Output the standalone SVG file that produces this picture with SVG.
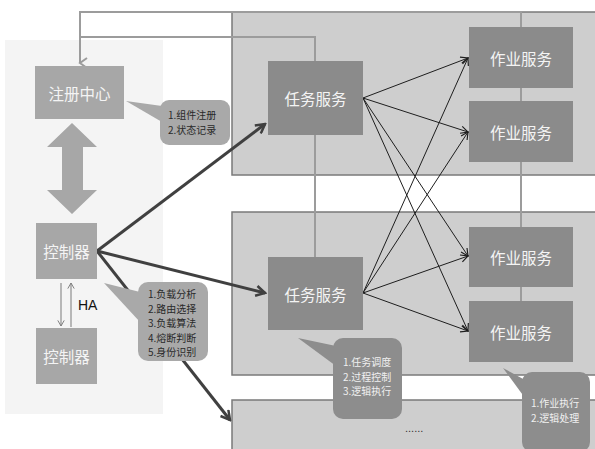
<svg xmlns="http://www.w3.org/2000/svg" width="595" height="449" viewBox="0 0 595 449">
<defs>
<style>
.panel{fill:#cecece;stroke:#7a7a7a;stroke-width:1.5}
.lbox{fill:#a7a7a7}
.dbox{fill:#8b8b8b}
.lbl{font-family:"Noto Sans CJK SC","Noto Sans",sans-serif;font-size:15.5px;fill:#f4f4f4;text-anchor:middle;dominant-baseline:central}
.c1{fill:#a9a9a9}
.c2{fill:#8d8d8d}
.ct{font-family:"Noto Sans CJK SC","Noto Sans",sans-serif;font-size:10px;fill:#2a2a2a}
.ctw{font-family:"Noto Sans CJK SC","Noto Sans",sans-serif;font-size:10px;fill:#f0f0f0}
.conn{fill:none;stroke:#9c9c9c;stroke-width:2}
.thick{fill:none;stroke:#404040;stroke-width:3}
.thin{fill:none;stroke:#1e1e1e;stroke-width:1}
.ha{fill:none;stroke:#7a7a7a;stroke-width:1}
</style>
<marker id="mThick" viewBox="0 0 12 12" refX="10" refY="6" markerWidth="12" markerHeight="12" markerUnits="userSpaceOnUse" orient="auto">
<path d="M1,1 L10,6 L1,11" fill="none" stroke="#404040" stroke-width="2.5"/>
</marker>
<marker id="mThin" viewBox="0 0 10 10" refX="9" refY="5" markerWidth="9" markerHeight="9" markerUnits="userSpaceOnUse" orient="auto">
<path d="M1,1 L9,5 L1,9" fill="none" stroke="#1e1e1e" stroke-width="1.3"/>
</marker>
<marker id="mGray" viewBox="0 0 12 12" refX="6" refY="10" markerWidth="12" markerHeight="12" markerUnits="userSpaceOnUse" orient="auto-start-reverse">
<path d="M1,3 L6,10 L11,3" fill="none" stroke="#9c9c9c" stroke-width="2"/>
</marker>
<marker id="mHA2" viewBox="0 0 10 10" refX="9" refY="5" markerWidth="8" markerHeight="8" markerUnits="userSpaceOnUse" orient="auto">
<path d="M2,1 L9,5 L2,9" fill="none" stroke="#7a7a7a" stroke-width="1.2"/>
</marker>
</defs>
<rect width="595" height="449" fill="#ffffff"/>
<rect id="leftPanel" x="5" y="40" width="158" height="374" fill="#f4f4f4"/>
<g id="panels">
<rect id="panel1" class="panel" x="232" y="12" width="370" height="163"/>
<rect id="panel2" class="panel" x="232" y="212" width="370" height="163"/>
<rect id="panel3" class="panel" x="232" y="400" width="370" height="60"/>
</g>
<g id="connectors">
<polyline class="conn" points="521,301 521,12 80,12 80,63" marker-end="url(#mGray)"/>
<polyline class="conn" points="315,257 315,37 80,37"/>
<line class="thick" x1="97" y1="251" x2="265" y2="124" marker-end="url(#mThick)"/>
<line class="thick" x1="97" y1="251" x2="265" y2="293" marker-end="url(#mThick)"/>
<line class="thick" x1="97" y1="251" x2="230" y2="420" marker-end="url(#mThick)"/>
<line class="thin" x1="363" y1="98" x2="468" y2="58" marker-end="url(#mThin)"/>
<line class="thin" x1="363" y1="98" x2="468" y2="132" marker-end="url(#mThin)"/>
<line class="thin" x1="363" y1="98" x2="468" y2="256" marker-end="url(#mThin)"/>
<line class="thin" x1="363" y1="98" x2="468" y2="331" marker-end="url(#mThin)"/>
<line class="thin" x1="363" y1="293" x2="468" y2="58" marker-end="url(#mThin)"/>
<line class="thin" x1="363" y1="293" x2="468" y2="132" marker-end="url(#mThin)"/>
<line class="thin" x1="363" y1="293" x2="468" y2="256" marker-end="url(#mThin)"/>
<line class="thin" x1="363" y1="293" x2="468" y2="331" marker-end="url(#mThin)"/>
<line class="ha" x1="61" y1="283" x2="61" y2="326" marker-end="url(#mHA2)"/>
<line class="ha" x1="71" y1="327" x2="71" y2="283" marker-end="url(#mHA2)"/>
<polygon id="dblArrow" fill="#a7a7a7" points="72,123 97,147 83,147 83,190 97,190 72,214 47,190 62,190 62,147 47,147"/>
</g>
<g id="registry">
<rect class="lbox" x="35" y="66" width="89" height="53"/>
<text class="lbl" x="79.5" y="92.5">注册中心</text>
</g>
<g id="controller1">
<rect class="lbox" x="36" y="223" width="61" height="56"/>
<text class="lbl" x="66.5" y="251">控制器</text>
</g>
<g id="controller2">
<rect class="lbox" x="36" y="328" width="61" height="56"/>
<text class="lbl" x="66.5" y="356">控制器</text>
</g>
<text id="haLabel" x="78" y="310" font-family="Liberation Sans, Arial, sans-serif" font-size="14" fill="#111">HA</text>
<g id="task1">
<rect class="dbox" x="268" y="61" width="95" height="74"/>
<text class="lbl" x="315.5" y="98" font-size="16">任务服务</text>
</g>
<g id="task2">
<rect class="dbox" x="268" y="257" width="95" height="73"/>
<text class="lbl" x="315.5" y="293.5" font-size="16">任务服务</text>
</g>
<g id="job1">
<rect class="dbox" x="469" y="27" width="104" height="61"/>
<text class="lbl" x="521" y="57.5" font-size="16">作业服务</text>
</g>
<g id="job2">
<rect class="dbox" x="469" y="101" width="104" height="61"/>
<text class="lbl" x="521" y="131.5" font-size="16">作业服务</text>
</g>
<g id="job3">
<rect class="dbox" x="469" y="227" width="104" height="60"/>
<text class="lbl" x="521" y="257" font-size="16">作业服务</text>
</g>
<g id="job4">
<rect class="dbox" x="469" y="301" width="104" height="61"/>
<text class="lbl" x="521" y="331.5" font-size="16">作业服务</text>
</g>
<g id="callout1">
<path class="c1" d="M126,101 L162,106 L162,122 Z"/>
<rect class="c1" x="160" y="100" width="70" height="45" rx="9"/>
<text class="ct" x="168" y="119"><tspan x="168">1.组件注册</tspan><tspan x="168" dy="14.6">2.状态记录</tspan></text>
</g>
<g id="callout2">
<path class="c1" d="M104,283 L140,292 L140,322 Z"/>
<rect class="c1" x="138" y="282" width="70" height="79" rx="10"/>
<text class="ct" x="148" y="298"><tspan x="148">1.负载分析</tspan><tspan x="148" dy="14.6">2.路由选择</tspan><tspan x="148" dy="14.6">3.负载算法</tspan><tspan x="148" dy="14.6">4.熔断判断</tspan><tspan x="148" dy="14.6">5.身份识别</tspan></text>
</g>
<g id="callout3">
<path class="c2" d="M298,338 L336,346 L336,366 Z"/>
<rect class="c2" x="333" y="338" width="69" height="81" rx="10"/>
<text class="ctw" x="343" y="366"><tspan x="343">1.任务调度</tspan><tspan x="343" dy="14.6">2.过程控制</tspan><tspan x="343" dy="14.6">3.逻辑执行</tspan></text>
</g>
<g id="callout4">
<path class="c2" d="M503,368 L525,380 L525,398 Z"/>
<rect class="c2" x="522" y="372" width="68" height="80" rx="10"/>
<text class="ctw" x="531" y="407"><tspan x="531">1.作业执行</tspan><tspan x="531" dy="14.6">2.逻辑处理</tspan></text>
</g>
<text id="ellipsis" x="405" y="432" font-family="Liberation Sans, Arial, sans-serif" font-size="11" fill="#333">......</text>
</svg>
